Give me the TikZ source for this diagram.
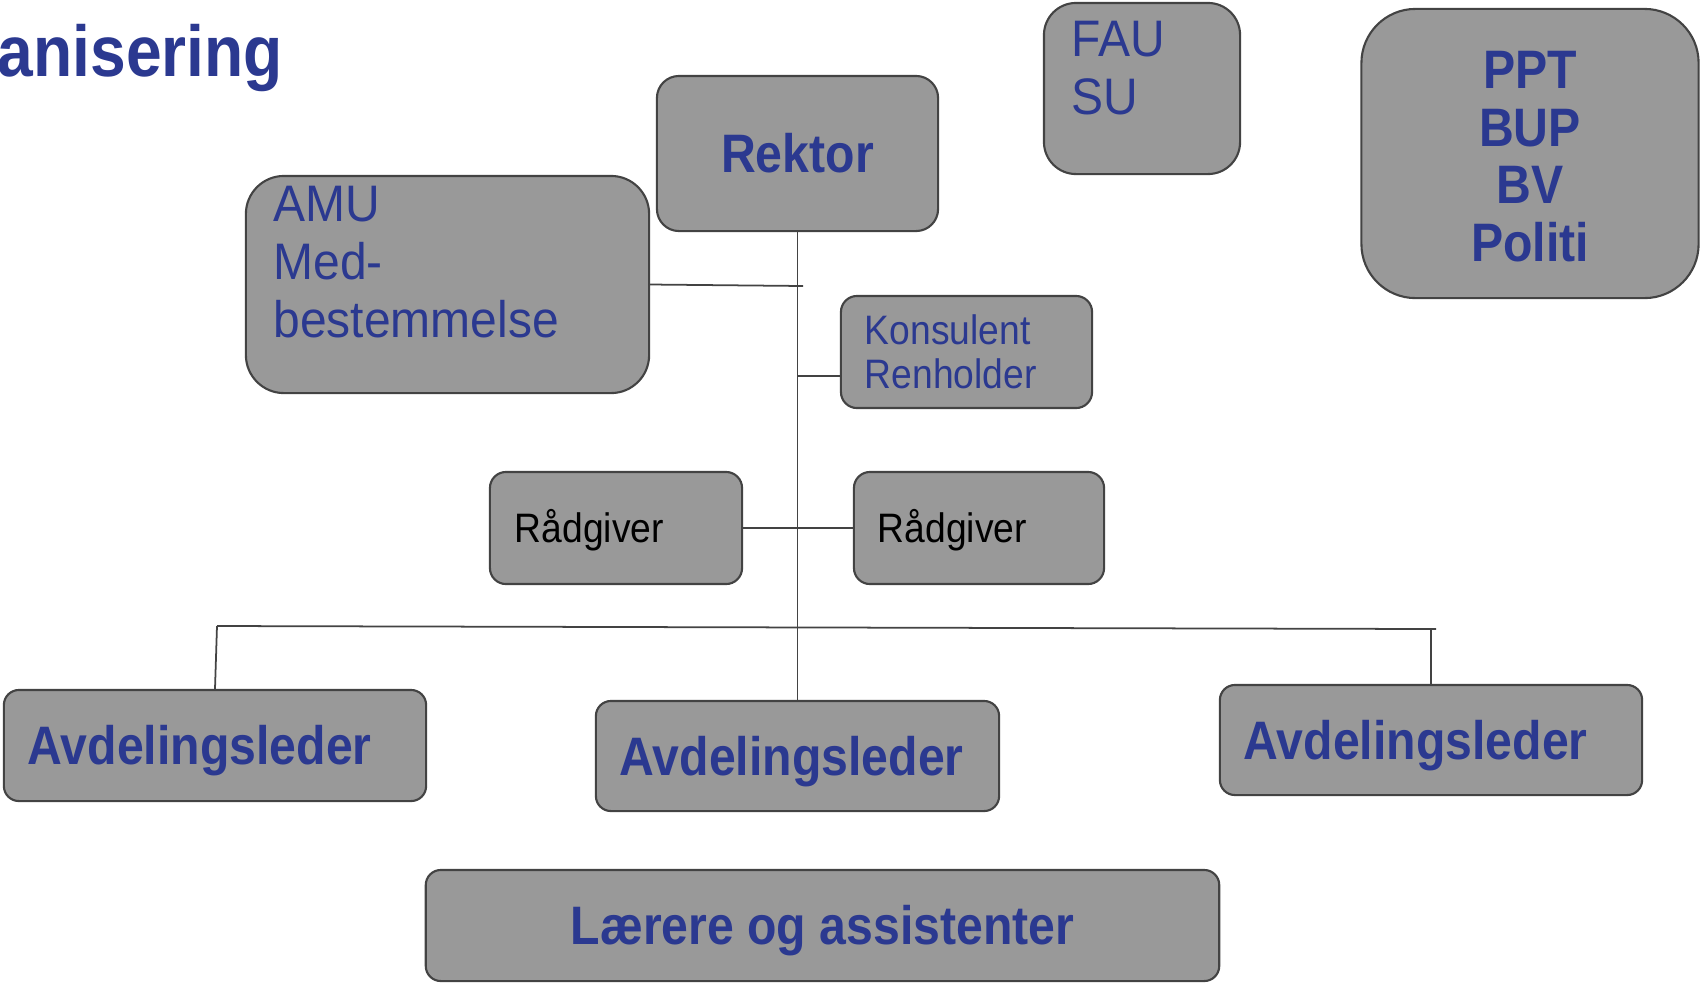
\documentclass[tikz,border=0pt]{standalone}
\usepackage{fontspec}
\setmainfont[FakeStretch=0.89]{Liberation Sans}
\newfontfamily\widesans[FakeStretch=0.935]{Liberation Sans}
\newfontfamily\smallsans[FakeStretch=0.905]{Liberation Sans}
\usetikzlibrary{calc}
\definecolor{orgblue}{RGB}{43, 57, 144}
\definecolor{boxgray}{RGB}{153, 153, 153}
\definecolor{edgegray}{RGB}{67, 67, 67}
\newcommand{\titlefont}{\fontsize{20.5}{24}\selectfont\bfseries}
\newcommand{\bigbold}{\fontsize{15.4}{16.4}\selectfont\bfseries}
\newcommand{\midreg}{\widesans\fontsize{14.6}{16.5}\selectfont}
\newcommand{\smallreg}{\smallsans\fontsize{11.7}{12.5}\selectfont}

\begin{document}
\begin{tikzpicture}[x=0.01cm, y=-0.01cm,
  orgbox/.style={draw=edgegray, fill=boxgray, line width=0.6pt, inner sep=0pt},
  onebold/.style={orgbox, font=\bigbold, text=orgblue, text height=11pt, text depth=0pt},
  onesmall/.style={orgbox, font=\smallreg, text=black, text height=8.4pt, text depth=0pt},
  regtxt/.style={font=\midreg, text=orgblue, align=left, inner sep=0pt},
  link/.style={draw=edgegray, line width=0.5pt}]
  \useasboundingbox (0,0) rectangle (1701,984);

  % title
  \node[font=\titlefont, text=orgblue, anchor=base west, inner sep=0pt] (title) at (-3,76) {anisering};

  % top row
  \node[onebold, rounded corners=0.22cm, minimum width=2.81cm, minimum height=1.55cm] (rektor) at (797.5,153.5) {Rektor};
  \node[orgbox, rounded corners=0.32cm, minimum width=1.96cm, minimum height=1.71cm] (fau) at (1142,88.5) {};
  \node[regtxt, anchor=north west] (fautxt) at ($(fau.north west)+(28,19)$) {FAU\\SU};
  \node[orgbox, rounded corners=0.54cm, minimum width=3.37cm, minimum height=2.89cm] (ppt) at (1530,153.5) {};
  \node[font=\bigbold, text=orgblue, align=center, inner sep=0pt] (ppttxt) at ($(ppt.center)+(0,3)$) {PPT\\BUP\\BV\\Politi};

  % staff beside the trunk
  \node[orgbox, rounded corners=0.38cm, minimum width=4.03cm, minimum height=2.17cm] (amu) at (447.5,284.5) {};
  \node[regtxt, anchor=north west] (amutxt) at ($(amu.north west)+(28,11)$) {AMU\\Med-\\bestemmelse};
  \node[orgbox, font=\smallreg, text=orgblue, align=left, text width=2.03cm, inner xsep=0.24cm,
        rounded corners=0.16cm, minimum height=1.12cm] (kons) at (966.5,352) {Konsulent\\Renholder};
  \node[onesmall, align=left, text width=2.02cm, inner xsep=0.25cm, rounded corners=0.16cm,
        minimum height=1.12cm] (radL) at (616,528) {Rådgiver};
  \node[onesmall, align=left, text width=2.02cm, inner xsep=0.24cm, rounded corners=0.16cm,
        minimum height=1.12cm] (radR) at (979,528) {Rådgiver};

  % department heads
  \node[onebold, align=left, text width=3.74cm, inner xsep=0.24cm, rounded corners=0.15cm,
        minimum height=1.11cm] (avdL) at (215,745.5) {Avdelingsleder};
  \node[onebold, align=left, text width=3.55cm, inner xsep=0.24cm, rounded corners=0.15cm,
        minimum height=1.10cm] (avdM) at (797.5,756) {Avdelingsleder};
  \node[onebold, align=left, text width=3.74cm, inner xsep=0.24cm, rounded corners=0.15cm,
        minimum height=1.10cm] (avdR) at (1431,740) {Avdelingsleder};
  \node[onebold, rounded corners=0.15cm, minimum width=7.93cm, minimum height=1.11cm] (laerere) at (822.5,925.5) {Lærere og assistenter};

  % connectors
  \coordinate (amuend) at (803,286);
  \coordinate (konsj) at (798,376);
  \coordinate (busL) at (217,626);
  \coordinate (busR) at (1436,629);
  \coordinate (busRj) at (1431,629);
  \draw[link] (rektor.south) -- (avdM.north);
  \draw[link] (amu.east) -- (amuend);
  \draw[link] (konsj) -- (konsj -| kons.west);
  \draw[link] (radL.east) -- (radR.west);
  \draw[link] (busL) -- (busR);
  \draw[link] (busL) -- (avdL.north);
  \draw[link] (busRj) -- (avdR.north);
\end{tikzpicture}
\end{document}
